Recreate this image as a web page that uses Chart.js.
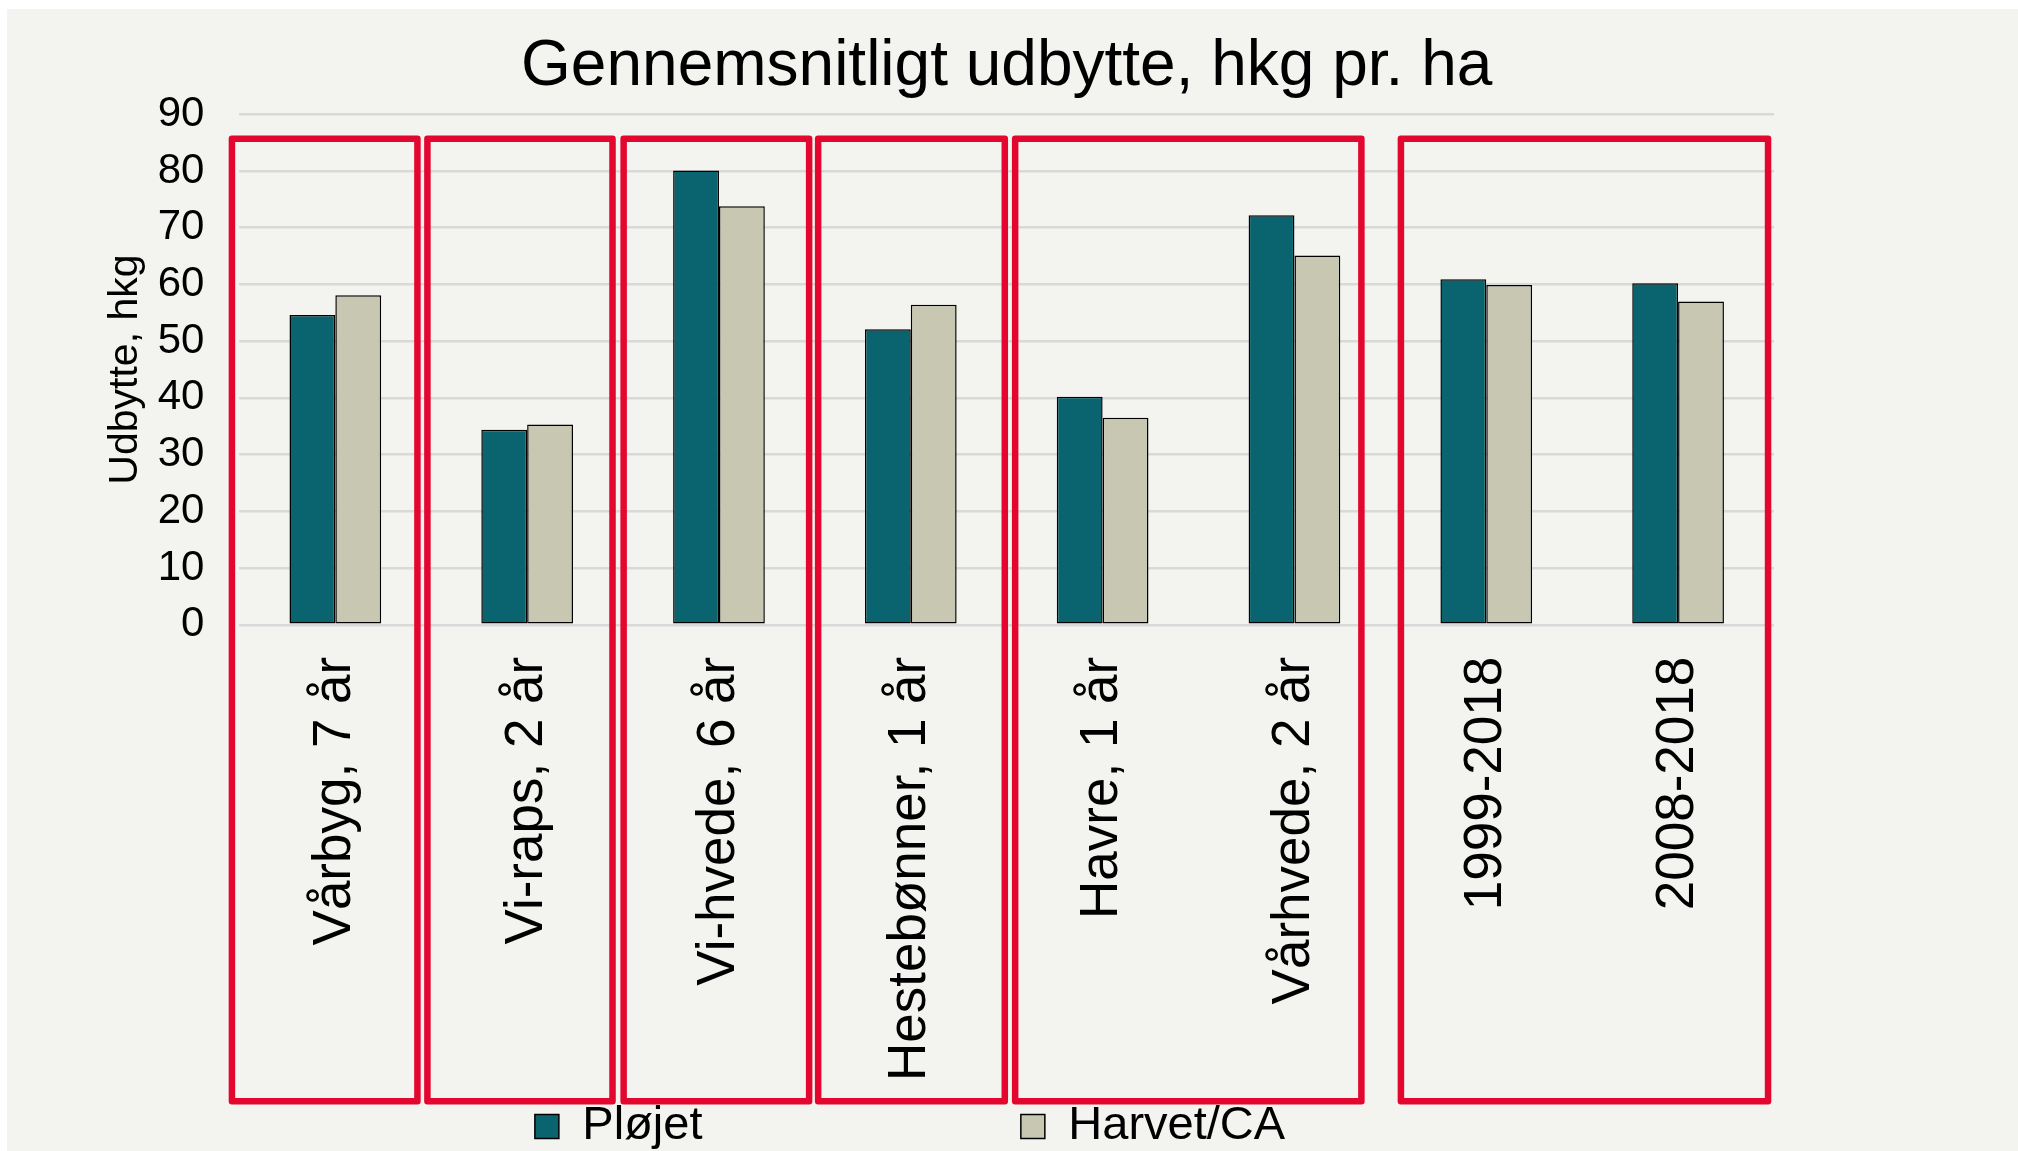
<!DOCTYPE html>
<html><head><meta charset="utf-8">
<script src="https://cdn.jsdelivr.net/npm/chart.js@4.4.1/dist/chart.umd.min.js"></script>
<style>
html,body{margin:0;padding:0;background:#fff;overflow:hidden;width:2018px;height:1151px;}
#wrap{position:absolute;left:7px;top:9px;width:2011px;height:1151px;background:#f3f3ef;}
canvas{display:block;}
</style></head><body>
<div id="wrap"><canvas id="c" width="2011" height="1151"></canvas></div>
<script>
// ---- data ----
const categories = ['Vårbyg, 7 år', 'Vi-raps, 2 år', 'Vi-hvede, 6 år', 'Hestebønner, 1 år', 'Havre, 1 år', 'Vårhvede, 2 år', '1999-2018', '2008-2018'];
const seriesNames = ['Pløjet', 'Harvet/CA'];
const plojet = [54.6, 34.4, 80.1, 52.1, 40.2, 72.2, 60.9, 60.2];
const harvet = [58.1, 35.3, 73.8, 56.4, 36.5, 65.1, 59.9, 57.0];
const yTicks = [0, 10, 20, 30, 40, 50, 60, 70, 80, 90];
const titleText = 'Gennemsnitligt udbytte, hkg pr. ha';
const yTitle = 'Udbytte, hkg';
// highlight groups (in category-index units): [from, to]
const groupFrom = [-0.539, 0.480, 1.503, 2.517, 3.544, 5.555];
const groupTo   = [0.428, 1.445, 2.470, 3.490, 5.349, 7.469];
const groupTopValue = 85.7;
const groupBottomValue = -84.0;

const FONT = "'Liberation Sans', Arial, Helvetica, sans-serif";

const groupBoxes = {
  id: 'groupBoxes',
  afterDraw(chart) {
    const {ctx, scales: {x, y}} = chart;
    ctx.save();
    ctx.strokeStyle = '#e3062f';
    ctx.lineWidth = 6.5;
    ctx.lineJoin = 'round';
    const top = y.getPixelForValue(groupTopValue);
    const bottom = y.getPixelForValue(groupBottomValue);
    for (let i = 0; i < groupFrom.length; i++) {
      const l = x.getPixelForValue(groupFrom[i]);
      const r = x.getPixelForValue(groupTo[i]);
      ctx.strokeRect(l, top, r - l, bottom - top);
    }
    ctx.restore();
  }
};

new Chart(document.getElementById('c'), {
  type: 'bar',
  data: {
    labels: categories,
    datasets: [
      {label: seriesNames[0], data: plojet, backgroundColor: '#0a6470', borderColor: '#000000', borderWidth: 1.5, borderSkipped: false},
      {label: seriesNames[1], data: harvet, backgroundColor: '#c8c8b2', borderColor: '#000000', borderWidth: 1.5, borderSkipped: false}
    ]
  },
  options: {
    responsive: false,
    devicePixelRatio: 1,
    animation: false,
    layout: {padding: {left: 39, right: 244, top: 0, bottom: 0}},
    datasets: {bar: {barPercentage: 1.0, categoryPercentage: 0.478}},
    plugins: {
      tooltip: {enabled: false},
      title: {
        display: true, text: titleText, color: '#000', fullSize: false,
        font: {family: FONT, size: 64, weight: 'normal'},
        padding: {top: 20, bottom: 8.5}
      },
      legend: {
        position: 'bottom',
        labels: {
          color: '#000',
          font: {family: FONT, size: 47},
          boxWidth: 24, boxHeight: 24,
          padding: 18,
          generateLabels(chart) {
            const items = Chart.defaults.plugins.legend.labels.generateLabels(chart);
            items[0].text = items[0].text + '\u00A0'.repeat(23);
            items.forEach(it => { it.lineWidth = 1.5; });
            return items;
          }
        }
      }
    },
    scales: {
      x: {
        grid: {display: false, drawTicks: false},
        border: {display: false},
        afterFit(scale) { scale.height -= scale.options.ticks.padding - 4; },
        ticks: {
          color: '#000', font: {family: FONT, size: 53},
          minRotation: 90, maxRotation: 90, autoSkip: false, padding: 32
        }
      },
      y: {
        min: 0, max: 90,
        afterBuildTicks(s) { s.ticks = yTicks.map(v => ({value: v})); },
        afterFit(scale) { scale.width -= scale.options.ticks.padding; },
        grid: {color: '#d9d9d9', lineWidth: 2.5, drawTicks: false},
        border: {display: false},
        ticks: {color: '#000', font: {family: FONT, size: 42}, padding: 35},
        title: {
          display: true, text: yTitle, color: '#000',
          font: {family: FONT, size: 41},
          padding: {top: 55, bottom: 7.5}
        }
      }
    }
  },
  plugins: [groupBoxes]
});
</script>
</body></html>
